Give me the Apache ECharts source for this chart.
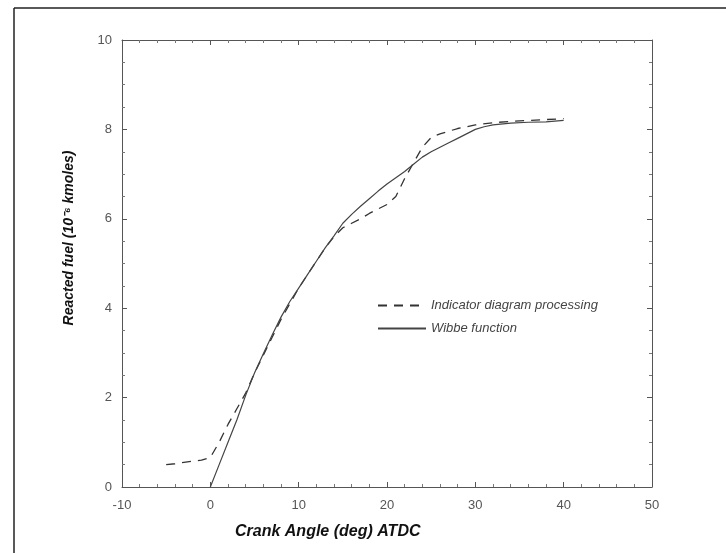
<!DOCTYPE html>
<html>
<head>
<meta charset="utf-8">
<script src="https://cdn.jsdelivr.net/npm/echarts@6/dist/echarts.min.js"></script>
<style>
  html, body { margin: 0; padding: 0; background: #fff; }
  #chart { width: 726px; height: 553px; }
</style>
</head>
<body>
<div id="chart"></div>
<script>
// indicator diagram processing (dashed)
const indX = [-5, -4, -3, -2, -1, 0, 1, 2, 3, 4, 5, 6, 7, 8, 9, 10, 11, 12, 13, 14, 15, 16, 17, 18, 19, 20, 21, 22, 23, 24, 25, 26, 27, 28, 29, 30, 32, 34, 36, 38, 40];
const indY = [0.5, 0.52, 0.55, 0.58, 0.6, 0.66, 1.0, 1.4, 1.75, 2.1, 2.55, 2.95, 3.35, 3.75, 4.1, 4.45, 4.75, 5.05, 5.35, 5.6, 5.8, 5.9, 6.0, 6.12, 6.22, 6.32, 6.5, 6.9, 7.25, 7.6, 7.82, 7.9, 7.96, 8.02, 8.06, 8.1, 8.15, 8.18, 8.2, 8.22, 8.24];

// Wibbe function (solid)
const wibX = [0, 1, 2, 3, 4, 5, 6, 7, 8, 9, 10, 11, 12, 13, 14, 15, 16, 17, 18, 19, 20, 21, 22, 23, 24, 25, 26, 27, 28, 29, 30, 31, 32, 34, 36, 38, 40];
const wibY = [0, 0.5, 1.0, 1.5, 2.05, 2.55, 2.98, 3.4, 3.8, 4.15, 4.45, 4.75, 5.05, 5.35, 5.62, 5.9, 6.1, 6.28, 6.45, 6.62, 6.78, 6.92, 7.06, 7.22, 7.38, 7.5, 7.6, 7.7, 7.8, 7.9, 8.0, 8.06, 8.1, 8.14, 8.16, 8.17, 8.2];

const chart = echarts.init(document.getElementById("chart"));

const axisColor = "#555";
const labelStyle = { color: "#555", fontSize: 13, fontFamily: "Liberation Sans" };

const boxAxis = (extra) => Object.assign({
  type: "value",
  axisLine: { show: true, onZero: false, lineStyle: { color: axisColor, width: 1 } },
  axisTick: { show: true, inside: true, length: 5, lineStyle: { color: axisColor } },
  minorTick: { show: true, splitNumber: 5, length: 3, lineStyle: { color: "#777" } },
  splitLine: { show: false },
}, extra);

const option = {
  animation: false,
  backgroundColor: "#fff",
  grid: { left: 122, right: 74, top: 40, bottom: 66 },
  xAxis: [
    boxAxis({ min: -10, max: 50, interval: 10, position: "bottom",
      axisLabel: Object.assign({ margin: 12 }, labelStyle) }),
    boxAxis({ min: -10, max: 50, interval: 10, position: "top", axisLabel: { show: false } }),
  ],
  yAxis: [
    boxAxis({ min: 0, max: 10, interval: 2, position: "left",
      minorTick: { show: true, splitNumber: 4, length: 3, lineStyle: { color: "#777" } },
      axisLabel: Object.assign({ margin: 10 }, labelStyle) }),
    boxAxis({ min: 0, max: 10, interval: 2, position: "right",
      minorTick: { show: true, splitNumber: 4, length: 3, lineStyle: { color: "#777" } },
      axisLabel: { show: false } }),
  ],
  legend: {
    orient: "vertical",
    left: 372,
    top: 294,
    itemWidth: 48,
    itemHeight: 10,
    itemGap: 10,
    itemStyle: { opacity: 0 },
    data: ["Indicator diagram processing", "Wibbe function"],
    textStyle: { color: "#444", fontSize: 13, fontStyle: "italic", fontFamily: "Liberation Sans" },
  },
  graphic: [
    { type: "line", shape: { x1: 14, y1: 8, x2: 14, y2: 553 }, style: { stroke: "#222", lineWidth: 1.5 } },
    { type: "line", shape: { x1: 14, y1: 8, x2: 726, y2: 8 }, style: { stroke: "#222", lineWidth: 1.5 } },
    {
      type: "text", left: 235, top: 524,
      style: { text: "Crank Angle (deg) ATDC", fill: "#111", font: "italic bold 16px Liberation Sans" },
    },
    {
      type: "text", x: 69, y: 238, rotation: Math.PI / 2, originX: 0, originY: 0,
      style: { text: "Reacted fuel (10⁻⁶ kmoles)", fill: "#111", font: "italic bold 14px Liberation Sans",
        align: "center", verticalAlign: "middle" },
    },
  ],
  series: [
    {
      name: "Indicator diagram processing",
      type: "line",
      symbol: "none",
      data: indX.map((x, i) => [x, indY[i]]),
      lineStyle: { color: "#333", width: 1.3, type: [9, 7] },
      itemStyle: { color: "#333" },
    },
    {
      name: "Wibbe function",
      type: "line",
      symbol: "none",
      data: wibX.map((x, i) => [x, wibY[i]]),
      lineStyle: { color: "#444", width: 1.2 },
      itemStyle: { color: "#444" },
    },
  ],
};

chart.setOption(option);
</script>
</body>
</html>
